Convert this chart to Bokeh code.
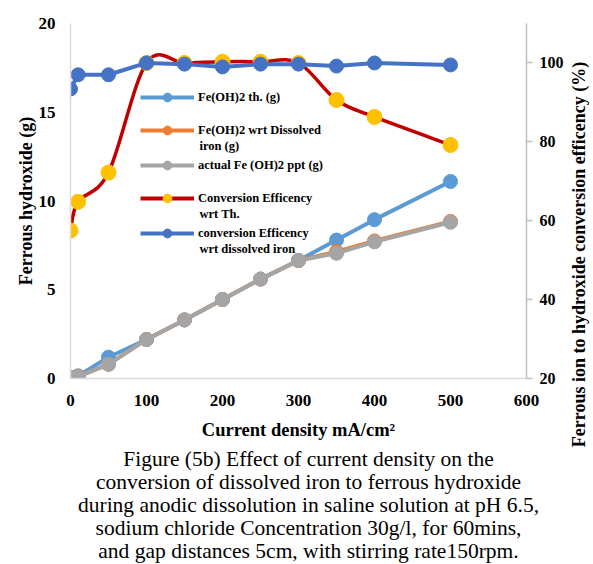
import numpy as np
from bokeh.plotting import figure
from bokeh.layouts import row, column
from bokeh.models import Range1d, LinearAxis, FixedTicker, Legend, LegendItem, Label
from bokeh.embed import file_html
from bokeh.resources import INLINE

# ---------------- data ----------------
current_density = [0, 10, 50, 100, 150, 200, 250, 300, 350, 400, 500]
feoh2_th = [0.05, 0.15, 1.2, 2.2, 3.3, 4.45, 5.6, 6.65, 7.8, 8.95, 11.1]
feoh2_dissolved = [0.05, 0.12, 0.8, 2.2, 3.3, 4.45, 5.6, 6.65, 7.15, 7.75, 8.85]
feoh2_actual = [0.05, 0.1, 0.8, 2.2, 3.3, 4.45, 5.6, 6.65, 7.05, 7.7, 8.8]
eff_th = [57.5, 64.8, 72.2, 100.0, 100.0, 100.3, 100.3, 100.0, 90.6, 86.3, 79.2]
eff_dissolved = [93.4, 97.0, 97.0, 100.0, 99.7, 99.0, 99.7, 99.7, 99.2, 100.0, 99.5]

x_ticks = [0, 100, 200, 300, 400, 500, 600]
left_ticks = [0, 5, 10, 15, 20]
right_ticks = [20, 40, 60, 80, 100]

# legend text: first line (beside the glyph) and optional second line
legend_first = ["Fe(OH)2 th. (g)", "Fe(OH)2 wrt Dissolved", "actual Fe (OH)2 ppt (g)",
                "Conversion Efficency", "conversion Efficency"]
legend_second = ["", "iron (g)", "", "wrt Th.", "wrt dissolved iron"]

x_title = "Current density mA/cm\u00b2"
left_title = "Ferrous hydroxide (g)"
right_title = "Ferrous ion to hydroxide conversion efficency (%)"
caption_lines = [
    "Figure (5b) Effect of current density on the",
    "conversion of dissolved iron to ferrous hydroxide",
    "during anodic dissolution in saline solution at pH 6.5,",
    "sodium chloride Concentration 30g/l, for 60mins,",
    "and gap distances 5cm, with stirring rate150rpm.",
]

# ---------------- style / layout constants ----------------
FONT = "Liberation Serif"
C_TH = "#5B9BD5"
C_DIS = "#ED7D31"
C_ACT = "#A5A5A5"
C_RED = "#C00000"
C_YEL = "#FFC000"
C_BLUE = "#4472C4"
AXIS_GRAY = "#d9d9d9"

W_MAIN, W_SIDE, W_ALL = 568, 25, 593
H_ALL = 564
H_TOP = 448            # height of the chart row
H_CAP = H_ALL - H_TOP  # height of the caption strip
FR_L, FR_R, FR_T, FR_B = 70, 526, 23, 378   # frame edges in page pixels

p = figure(width=W_MAIN, height=H_TOP, output_backend="svg", toolbar_location=None,
           x_range=Range1d(0, 600), y_range=Range1d(0, 20),
           min_border_left=FR_L, min_border_right=W_MAIN - FR_R,
           min_border_top=FR_T, min_border_bottom=H_TOP - FR_B)
p.extra_y_ranges = {"eff": Range1d(20, 110)}
p.outline_line_color = None
p.xgrid.visible = False
p.ygrid.visible = False

# x axis
xa = p.xaxis[0]
xa.ticker = FixedTicker(ticks=x_ticks)
xa.axis_line_color = AXIS_GRAY
xa.axis_line_width = 1.5
xa.major_tick_out = 0
xa.major_tick_in = 0
xa.minor_tick_out = 0
xa.minor_tick_in = 0
xa.major_label_text_font = FONT
xa.major_label_text_font_style = "bold"
xa.major_label_text_font_size = "17px"
xa.major_label_text_color = "black"
xa.major_label_standoff = 16
xa.axis_label = x_title
xa.axis_label_text_font = FONT
xa.axis_label_text_font_style = "bold"
xa.axis_label_text_font_size = "18.5px"
xa.axis_label_text_color = "black"
xa.axis_label_standoff = 11

# left axis
ya = p.yaxis[0]
ya.ticker = FixedTicker(ticks=left_ticks)
ya.axis_line_color = AXIS_GRAY
ya.axis_line_width = 1.5
ya.major_tick_out = 0
ya.major_tick_in = 0
ya.minor_tick_out = 0
ya.minor_tick_in = 0
ya.major_label_text_font = FONT
ya.major_label_text_font_style = "bold"
ya.major_label_text_font_size = "17px"
ya.major_label_text_color = "black"
ya.major_label_standoff = 15
ya.axis_label = left_title
ya.axis_label_text_font = FONT
ya.axis_label_text_font_style = "bold"
ya.axis_label_text_font_size = "18px"
ya.axis_label_text_color = "black"
ya.axis_label_standoff = 0

# right axis
ra = LinearAxis(y_range_name="eff", ticker=FixedTicker(ticks=right_ticks))
ra.axis_line_color = "#bfbfbf"
ra.axis_line_width = 1.5
ra.major_tick_line_color = "#bfbfbf"
ra.major_tick_line_width = 1.5
ra.major_tick_out = 6
ra.major_tick_in = 0
ra.minor_tick_out = 0
ra.minor_tick_in = 0
ra.major_label_text_font = FONT
ra.major_label_text_font_style = "bold"
ra.major_label_text_font_size = "16px"
ra.major_label_text_color = "black"
ra.major_label_standoff = 7
p.add_layout(ra, "right")

# ---------------- series ----------------
LW = 4
MS = 14
r_th_l = p.line(current_density, feoh2_th, line_color=C_TH, line_width=LW)
r_th_s = p.scatter(current_density, feoh2_th, size=MS, fill_color=C_TH, line_color=C_TH)
r_dis_l = p.line(current_density, feoh2_dissolved, line_color=C_DIS, line_width=LW)
r_dis_s = p.scatter(current_density, feoh2_dissolved, size=MS, fill_color=C_DIS, line_color=C_DIS)
r_act_l = p.line(current_density, feoh2_actual, line_color=C_ACT, line_width=LW)
r_act_s = p.scatter(current_density, feoh2_actual, size=MS, fill_color=C_ACT, line_color=C_ACT)

# smoothed (Excel-style) curve for conversion efficiency wrt Th.
xs = np.asarray(current_density, float)
ys = np.asarray(eff_th, float)
n = len(xs)
x0, y0, x1, y1, cx0, cy0, cx1, cy1 = ([] for _ in range(8))
for i in range(n - 1):
    a = i - 1 if i > 0 else i
    d = i + 2 if i + 2 < n else i + 1
    x0.append(xs[i]); y0.append(ys[i]); x1.append(xs[i + 1]); y1.append(ys[i + 1])
    cx0.append(xs[i] + (xs[i + 1] - xs[a]) / 6.0)
    cy0.append(ys[i] + (ys[i + 1] - ys[a]) / 6.0)
    cx1.append(xs[i + 1] - (xs[d] - xs[i]) / 6.0)
    cy1.append(ys[i + 1] - (ys[d] - ys[i]) / 6.0)
p.bezier(x0=x0, y0=y0, x1=x1, y1=y1, cx0=cx0, cy0=cy0, cx1=cx1, cy1=cy1,
         line_color=C_RED, line_width=3.5, y_range_name="eff")
# legend-only line for the red series
r_red_leg = p.line(x=[np.nan], y=[np.nan], line_color=C_RED, line_width=LW, y_range_name="eff")
r_yel_s = p.scatter(current_density, eff_th, size=MS + 1, fill_color=C_YEL, line_color=C_YEL,
                    y_range_name="eff")

r_blue_l = p.line(current_density, eff_dissolved, line_color=C_BLUE, line_width=LW, y_range_name="eff")
r_blue_s = p.scatter(current_density, eff_dissolved, size=MS, fill_color=C_BLUE, line_color=C_BLUE,
                     y_range_name="eff")

# ---------------- legend (one box per entry, placed like the reference) ----------------
legend_renderers = [[r_th_l, r_th_s], [r_dis_l, r_dis_s], [r_act_l, r_act_s],
                    [r_red_leg, r_yel_s], [r_blue_l, r_blue_s]]
first_line_y = [97, 130, 165, 198, 233]     # page y of each entry's first text line
LINE_STEP = 15.5                           # second text line below the first
ITEM_H = 22
GLYPH_L, GLYPH_W, STANDOFF = 140, 54, 4
px_per_x = (FR_R - FR_L) / 600.0
px_per_y = (FR_B - FR_T) / 20.0
for k in range(5):
    lg = Legend(items=[LegendItem(label=legend_first[k], renderers=legend_renderers[k])],
                location=(GLYPH_L - FR_L, FR_B - first_line_y[k] - ITEM_H / 2.0))
    lg.label_text_font = FONT
    lg.label_text_font_style = "bold"
    lg.label_text_font_size = "12.5px"
    lg.label_text_color = "black"
    lg.label_standoff = STANDOFF
    lg.glyph_width = GLYPH_W
    lg.glyph_height = ITEM_H
    lg.label_height = ITEM_H
    lg.padding = 0
    lg.margin = 0
    lg.spacing = 0
    lg.border_line_alpha = 0
    lg.background_fill_alpha = 0
    p.add_layout(lg, "center")
    if legend_second[k]:
        p.add_layout(Label(x=(GLYPH_L + GLYPH_W + STANDOFF + 1 - FR_L) / px_per_x,
                           y=(FR_B - first_line_y[k] - LINE_STEP) / px_per_y,
                           text=legend_second[k], text_align="left", text_baseline="middle",
                           text_font=FONT, text_font_style="bold",
                           text_font_size="12.5px", text_color="black"))

# ---------------- right-hand axis title (narrow strip beside the chart) ----------------
p2 = figure(width=W_SIDE, height=H_TOP, output_backend="svg", toolbar_location=None,
            x_range=Range1d(0, W_SIDE), y_range=Range1d(0, H_TOP),
            x_axis_type=None, y_axis_type=None,
            min_border_left=0, min_border_right=0, min_border_top=0, min_border_bottom=0)
p2.outline_line_color = None
p2.xgrid.visible = False
p2.ygrid.visible = False
p2.text(x=[578 - W_MAIN], y=[H_TOP - 254], text=[right_title], angle=np.pi / 2,
        text_align="center", text_baseline="middle",
        text_font={"value": FONT}, text_font_style="bold",
        text_font_size="18px", text_color="black")

# ---------------- caption strip (full width, under the chart) ----------------
cap = figure(width=W_ALL, height=H_CAP, output_backend="svg", toolbar_location=None,
             x_range=Range1d(0, W_ALL), y_range=Range1d(0, H_CAP),
             x_axis_type=None, y_axis_type=None,
             min_border_left=0, min_border_right=0, min_border_top=0, min_border_bottom=0)
cap.outline_line_color = None
cap.xgrid.visible = False
cap.ygrid.visible = False
CAP_FIRST, CAP_STEP, CAP_CX = 458, 23, 308
cap.text(x=[CAP_CX] * len(caption_lines),
         y=[H_ALL - (CAP_FIRST + k * CAP_STEP) for k in range(len(caption_lines))],
         text=caption_lines, text_align="center", text_baseline="middle",
         text_font={"value": FONT}, text_font_style="normal",
         text_font_size="21.5px", text_color="black")

layout = column(row(column(p), p2, spacing=0), cap, spacing=0)
open("out.html", "w").write(file_html(layout, INLINE))
